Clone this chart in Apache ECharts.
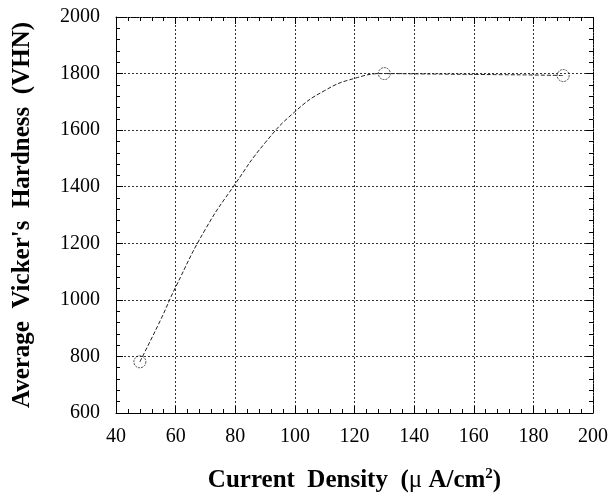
<!DOCTYPE html>
<html>
<head>
<meta charset="utf-8">
<script src="https://cdn.jsdelivr.net/npm/echarts@6/dist/echarts.min.js"></script>
<style>html,body{margin:0;padding:0;background:#fff;}#c{width:614px;height:498px;}</style>
</head>
<body>
<div id="c"></div>
<script>
// Measured points (current density, hardness)
const densities = [48, 130, 190];
const hardness = [781, 1800, 1793];
// Fitted curve
const fitX = [48, 55, 60, 70, 80, 90, 100, 110, 120, 130, 140, 150, 160, 170, 180, 190];
const fitY = [781, 930, 1045, 1250, 1410, 1555, 1665, 1740, 1783, 1800, 1799, 1798, 1797, 1796, 1795, 1793];
const xTicks = [40, 60, 80, 100, 120, 140, 160, 180, 200];
const yTicks = [600, 800, 1000, 1200, 1400, 1600, 1800, 2000];

const font = '"Liberation Serif", "DejaVu Serif", serif';
const chart = echarts.init(document.getElementById('c'));
function ticks() {
  return {
    axisTick: {show: true, inside: true, length: 7, lineStyle: {color: '#000', width: 1}},
    minorTick: {show: true, splitNumber: 5, length: 4, lineStyle: {color: '#000', width: 1}}
  };
}
const plain = v => String(v);
const grid = {color: '#333', type: [2, 2], width: 1};
chart.setOption({
  animation: false,
  backgroundColor: '#fff',
  grid: {left: 116, right: 21, top: 17, bottom: 84},
  xAxis: [
    Object.assign(ticks(), {
      type: 'value', position: 'bottom', min: xTicks[0], max: xTicks[xTicks.length - 1], interval: 20,
      axisLine: {show: true, onZero: false, lineStyle: {color: '#000', width: 1}},
      axisLabel: {color: '#000', fontFamily: font, fontSize: 20, margin: 14, formatter: plain},
      splitLine: {show: true, lineStyle: grid},
      name: 'Current  Density  ({a|μ} A/cm{s|2})',
      nameLocation: 'middle', nameGap: 54,
      nameTextStyle: {color: '#000', fontFamily: font, fontSize: 25, fontWeight: 'bold',
        rich: {a: {fontFamily: font, fontSize: 25, fontWeight: 'normal', color: '#000'},
               s: {fontFamily: font, fontSize: 15, fontWeight: 'bold', color: '#000', verticalAlign: 'bottom', padding: [0, 0, 12, 0]}}}
    }),
    Object.assign(ticks(), {
      type: 'value', position: 'top', min: xTicks[0], max: xTicks[xTicks.length - 1], interval: 20,
      axisLine: {show: true, onZero: false, lineStyle: {color: '#000', width: 1, type: [2, 1]}},
      axisLabel: {show: false}, splitLine: {show: false}
    })
  ],
  yAxis: [
    Object.assign(ticks(), {
      type: 'value', position: 'left', min: yTicks[0], max: yTicks[yTicks.length - 1], interval: 200,
      axisLine: {show: true, onZero: false, lineStyle: {color: '#000', width: 1}},
      axisLabel: {color: '#000', fontFamily: font, fontSize: 20, margin: 16, formatter: plain},
      splitLine: {show: true, lineStyle: grid},
      name: "Average  Vicker's  Hardness  (VHN)",
      nameLocation: 'middle', nameGap: 81,
      nameTextStyle: {color: '#000', fontFamily: font, fontSize: 25, fontWeight: 'bold'}
    }),
    Object.assign(ticks(), {
      type: 'value', position: 'right', min: yTicks[0], max: yTicks[yTicks.length - 1], interval: 200,
      axisLine: {show: true, onZero: false, lineStyle: {color: '#000', width: 1, type: [2, 1]}},
      axisLabel: {show: false}, splitLine: {show: false}
    })
  ],
  series: [
    {
      type: 'line', smooth: true, showSymbol: false, symbol: 'none',
      data: fitX.map((x, i) => [x, fitY[i]]),
      lineStyle: {color: '#222', width: 1, type: [4, 2]}, z: 2
    },
    {
      type: 'scatter', symbol: 'circle', symbolSize: 12,
      data: densities.map((x, i) => [x, hardness[i]]),
      itemStyle: {color: 'rgba(255,255,255,0)', borderColor: '#222', borderWidth: 1, borderType: [2, 1]}, z: 3
    }
  ]
});
</script>
</body>
</html>
